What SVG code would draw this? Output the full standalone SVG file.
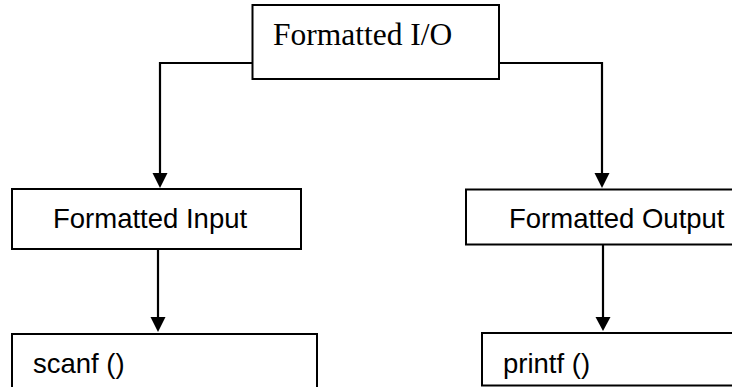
<svg xmlns="http://www.w3.org/2000/svg" width="732" height="387" viewBox="0 0 732 387">
<style>
.box{fill:#fff;stroke:#000;stroke-width:2}
.serif{font-family:"Liberation Serif","Times New Roman",serif;font-size:31.5px;fill:#000}
.sans{font-family:"Liberation Sans",Arial,sans-serif;font-size:27.5px;fill:#000}
.conn{fill:none;stroke:#000;stroke-width:2.2}
.head{fill:#000}
</style>
<g id="connectors">
<path class="conn" d="M252,63 H160 V174"/>
<polygon class="head" points="152.5,173 167.5,173 160,188"/>
<path class="conn" d="M499,63 H602 V174"/>
<polygon class="head" points="594.5,173 609.5,173 602,188"/>
<path class="conn" d="M158,249 V318"/>
<polygon class="head" points="150.5,317 165.5,317 158,332"/>
<path class="conn" d="M603,245 V318"/>
<polygon class="head" points="595.5,317 610.5,317 603,331"/>
</g>
<g id="formatted-io">
<rect class="box" x="252.5" y="5" width="246.5" height="74"/>
<text class="serif" x="273" y="45">Formatted I/O</text>
</g>
<g id="formatted-input">
<rect class="box" x="12" y="189" width="289" height="60"/>
<text class="sans" x="53" y="228">Formatted Input</text>
</g>
<g id="formatted-output">
<rect class="box" x="466" y="189.5" width="280" height="55"/>
<text class="sans" x="509" y="228">Formatted Output</text>
</g>
<g id="scanf">
<rect class="box" x="12" y="334" width="305" height="70"/>
<text class="sans" x="33" y="373">scanf ()</text>
</g>
<g id="printf">
<rect class="box" x="482" y="333" width="270" height="52.5"/>
<text class="sans" x="503" y="373">printf ()</text>
</g>
</svg>
